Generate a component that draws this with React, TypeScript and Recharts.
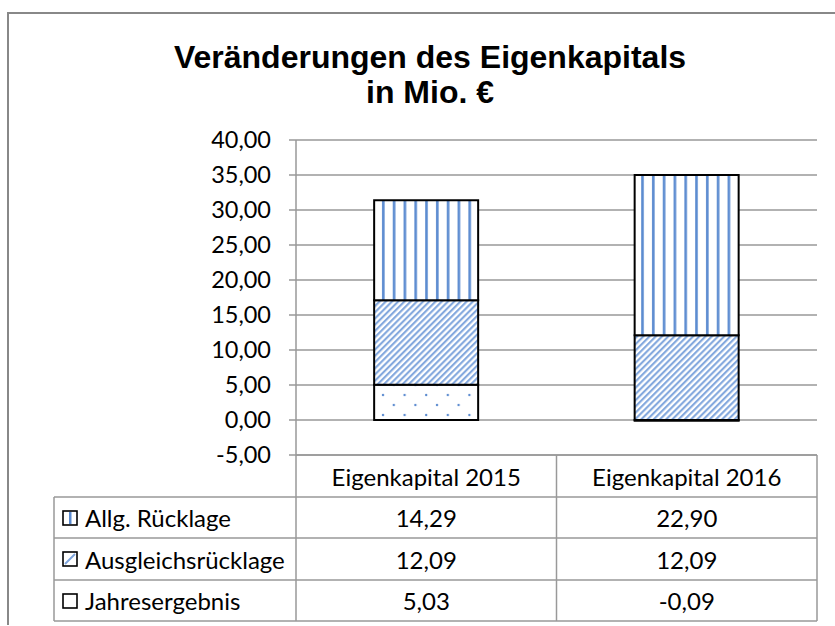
import { BarChart, Bar, XAxis, YAxis, CartesianGrid } from "recharts";

const categories = ["Eigenkapital 2015", "Eigenkapital 2016"];
const allgRuecklage = [14.29, 22.9];
const ausgleichsRuecklage = [12.09, 12.09];
const jahresergebnis = [5.03, -0.09];
const yTicks = [-5, 0, 5, 10, 15, 20, 25, 30, 35, 40];

const series = [
  { key: "allg", label: "Allg. Rücklage", values: allgRuecklage, pattern: "pVert" },
  { key: "ausgleich", label: "Ausgleichsrücklage", values: ausgleichsRuecklage, pattern: "pDiag" },
  { key: "jahr", label: "Jahresergebnis", values: jahresergebnis, pattern: "pDots" },
];

const data = categories.map((name, i) => ({
  name,
  allg: allgRuecklage[i],
  ausgleich: ausgleichsRuecklage[i],
  jahr: jahresergebnis[i],
}));

// layout (page coordinates)
const W = 835;
const H = 626;
const PLOT_LEFT = 296;
const PLOT_RIGHT = 817;
const PLOT_TOP = 140;
const PLOT_BOTTOM = 455;
const Y_AXIS_W = 80;
const ROWS = [455, 497, 538, 580, 621];
const TABLE_LEFT = 54;
const GRID = "#999999";
const BLUE = "#5b8bd0";
const FONT = "Lato, 'Open Sans', sans-serif";

const fmt = (v: number) => v.toFixed(2).replace(".", ",");

function Patterns() {
  return (
    <defs>
      <pattern id="pVert" patternUnits="userSpaceOnUse" width={10.8} height={10}>
        <rect width={10.8} height={10} fill="#fff" />
        <rect x={4} width={2.6} height={10} fill={BLUE} />
      </pattern>
      <pattern
        id="pDiag"
        patternUnits="userSpaceOnUse"
        width={4.4}
        height={10}
        patternTransform="rotate(45)"
      >
        <rect width={4.4} height={10} fill="#fff" />
        <rect x={1} width={2} height={10} fill="#7ca3dc" />
      </pattern>
      <pattern id="pDots" patternUnits="userSpaceOnUse" width={21.6} height={20}>
        <rect width={21.6} height={20} fill="#fff" />
        <circle cx={5} cy={5} r={1.2} fill={BLUE} />
        <circle cx={15.8} cy={15} r={1.2} fill={BLUE} />
      </pattern>
    </defs>
  );
}

function LegendIcon({ kind }: { kind: string }) {
  return (
    <svg width={16} height={16} style={{ position: "absolute", left: 62, top: 0 }}>
      <rect x={1} y={1} width={14} height={14} fill="#fff" stroke="#000" strokeWidth={1.6} />
      {kind === "allg" && <rect x={7} y={2} width={2.5} height={12} fill={BLUE} />}
      {kind === "ausgleich" && <line x1={3} y1={13} x2={13} y2={3} stroke="#7ca3dc" strokeWidth={2} />}
    </svg>
  );
}

function DataTable() {
  const band = (PLOT_RIGHT - PLOT_LEFT) / categories.length;
  const colX = categories.map((_, i) => PLOT_LEFT + band * (i + 0.5));
  const mid = (r: number) => (ROWS[r] + ROWS[r + 1]) / 2;
  return (
    <>
      <svg width={W} height={H} style={{ position: "absolute", left: 0, top: 0 }}>
        {/* horizontal lines */}
        <line x1={PLOT_LEFT} x2={PLOT_RIGHT} y1={ROWS[0]} y2={ROWS[0]} stroke={GRID} strokeWidth={1.5} />
        {ROWS.slice(1).map((y) => (
          <line key={y} x1={TABLE_LEFT} x2={PLOT_RIGHT} y1={y} y2={y} stroke={GRID} strokeWidth={1.5} />
        ))}
        {/* vertical lines */}
        <line x1={TABLE_LEFT} x2={TABLE_LEFT} y1={ROWS[1]} y2={ROWS[4]} stroke={GRID} strokeWidth={1.5} />
        {[0, 1, 2].map((i) => (
          <line
            key={i}
            x1={PLOT_LEFT + band * i}
            x2={PLOT_LEFT + band * i}
            y1={ROWS[0]}
            y2={ROWS[4]}
            stroke={GRID}
            strokeWidth={1.5}
          />
        ))}
        {categories.map((c, i) => (
          <text key={c} x={colX[i]} y={mid(0)} textAnchor="middle" dominantBaseline="central"
            fontFamily={FONT} fontSize={24} fill="#000">
            {c}
          </text>
        ))}
        {series.map((s, r) =>
          s.values.map((v, i) => (
            <text key={s.key + i} x={colX[i]} y={mid(r + 1)} textAnchor="middle" dominantBaseline="central"
              fontFamily={FONT} fontSize={24} fill="#000">
              {fmt(v)}
            </text>
          ))
        )}
        {series.map((s, r) => (
          <text key={s.key} x={85} y={mid(r + 1)} dominantBaseline="central"
            fontFamily={FONT} fontSize={24} fill="#000">
            {s.label}
          </text>
        ))}
      </svg>
      {series.map((s, r) => (
        <div key={s.key} style={{ position: "absolute", left: 0, top: mid(r + 1) - 8, height: 16, width: 100 }}>
          <LegendIcon kind={s.key} />
        </div>
      ))}
    </>
  );
}

export default function App() {
  return (
    <div style={{ position: "absolute", left: 0, top: 0, width: W, height: H, overflow: "hidden", background: "#fff" }}>
      {/* outer frame, cut off at right and bottom */}
      <div
        style={{
          position: "absolute",
          left: 7,
          top: 12,
          width: 900,
          height: 611,
          borderLeft: "2px solid #888",
          borderTop: "2px solid #888",
        }}
      />
      <div
        style={{
          position: "absolute",
          left: 0,
          top: 40,
          width: 860,
          textAlign: "center",
          fontFamily: "'Liberation Sans', Arial, sans-serif",
          fontWeight: "bold",
          fontSize: 32,
          lineHeight: "35px",
          color: "#000",
        }}
      >
        Veränderungen des Eigenkapitals
        <br />
        in Mio. €
      </div>
      <div style={{ position: "absolute", left: 0, top: 0 }}>
        <BarChart
          width={W}
          height={H}
          data={data}
          stackOffset="sign"
          barCategoryGap="30%"
          margin={{ top: PLOT_TOP, right: W - PLOT_RIGHT, bottom: H - PLOT_BOTTOM, left: PLOT_LEFT - Y_AXIS_W }}
        >
          <Patterns />
          <CartesianGrid vertical={false} stroke={GRID} strokeWidth={1.5} />
          <XAxis dataKey="name" hide />
          <YAxis
            width={Y_AXIS_W}
            domain={[-5, 40]}
            ticks={yTicks}
            interval={0}
            tickFormatter={fmt}
            axisLine={{ stroke: GRID, strokeWidth: 1.5 }}
            tickLine={{ stroke: GRID, strokeWidth: 1.5 }}
            tickSize={7}
            tickMargin={18}
            tick={{ fill: "#000", fontSize: 23.5, fontFamily: FONT }}
          />
          {[...series].reverse().map((s) => (
            <Bar
              key={s.key}
              dataKey={s.key}
              name={s.label}
              stackId="ek"
              fill={`url(#${s.pattern})`}
              stroke="#000"
              strokeWidth={2}
              isAnimationActive={false}
            />
          ))}
        </BarChart>
      </div>
      <DataTable />
    </div>
  );
}
